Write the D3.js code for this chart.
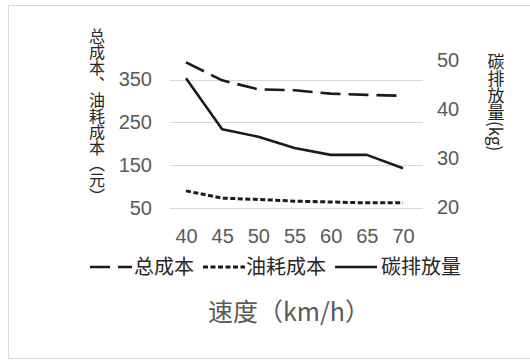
<!DOCTYPE html>
<html>
<head>
<meta charset="utf-8">
<script src="https://cdn.jsdelivr.net/npm/d3@7/dist/d3.min.js"></script>
<style>
  html, body { margin: 0; padding: 0; background: #fff; }
  svg { display: block; }
</style>
</head>
<body>
<div id="chart"></div>
<script>
// Speeds (km/h) on the category axis
const speeds = ["40", "45", "50", "55", "60", "65", "70"];
// Total cost and fuel cost (元), left axis
const totalCost = [390, 348, 327, 325, 317, 314, 312];
const fuelCost = [90, 73, 70, 66, 64, 62, 62];
// Carbon emissions (kg), right axis
const carbon = [46.3, 35.9, 34.4, 32.1, 30.7, 30.7, 28.0];
// Axis tick labels
const leftTicks = [50, 150, 250, 350];
const rightTicks = [20, 30, 40, 50];
// Legend entries
const legendNames = ["总成本", "油耗成本", "碳排放量"];

const W = 530, H = 360;
const svg = d3.select("#chart").append("svg")
  .attr("width", W).attr("height", H);

// Chart frame
svg.append("path")
  .attr("d", `M${W},5.5 H8.5 V358.5 H${W}`)
  .attr("fill", "none").attr("stroke", "#d9d9d9").attr("stroke-width", 1);

const x = d3.scalePoint().domain(speeds).range([186, 403]);
const yL = d3.scaleLinear().domain([50, 350]).range([208, 79.5]);
const yR = d3.scaleLinear().domain([20, 50]).range([207.5, 60]);

const tickFont = "'Liberation Sans', Arial, sans-serif";
const cjkFont = "'Noto Sans CJK SC', sans-serif";

// Horizontal gridlines for the left axis
svg.append("g").selectAll("line").data(leftTicks).join("line")
  .attr("x1", 170).attr("x2", 423)
  .attr("y1", d => Math.round(yL(d)) + 0.5).attr("y2", d => Math.round(yL(d)) + 0.5)
  .attr("stroke", "#d9d9d9").attr("stroke-width", 1);

// Left axis labels
const leftAxis = d3.axisLeft(yL).tickValues(leftTicks).tickSize(0).tickPadding(0);
const gL = svg.append("g").attr("transform", "translate(152,0)").call(leftAxis);
gL.select(".domain").remove();
gL.selectAll("text").attr("font-family", tickFont).attr("font-size", 20).attr("fill", "#595959");

// Right axis labels
const rightAxis = d3.axisRight(yR).tickValues(rightTicks).tickSize(0).tickPadding(0);
const gR = svg.append("g").attr("transform", "translate(437,0)").call(rightAxis);
gR.select(".domain").remove();
gR.selectAll("text").attr("font-family", tickFont).attr("font-size", 20).attr("fill", "#595959");

// Category labels
const bottomAxis = d3.axisBottom(x).tickSize(0).tickPadding(0);
const gB = svg.append("g").attr("transform", "translate(0,229)").call(bottomAxis);
gB.select(".domain").remove();
gB.selectAll("text").attr("font-family", tickFont).attr("font-size", 20).attr("fill", "#595959");

const styles = [
  { dash: "20,8", width: 2.6 },
  { dash: "5,2.5", width: 3 },
  { dash: null, width: 2.6 }
];

const lineL = d3.line().x((d, i) => x(speeds[i])).y(d => yL(d));
const lineR = d3.line().x((d, i) => x(speeds[i])).y(d => yR(d));

const series = [
  { values: totalCost, gen: lineL, st: styles[0] },
  { values: fuelCost, gen: lineL, st: styles[1] },
  { values: carbon, gen: lineR, st: styles[2] }
];

svg.append("g").selectAll("path").data(series).join("path")
  .attr("d", s => s.gen(s.values))
  .attr("fill", "none")
  .attr("stroke", "#1a1a1a")
  .attr("stroke-width", s => s.st.width)
  .attr("stroke-dasharray", s => s.st.dash)
  .attr("stroke-linejoin", "round");

// Legend
const legendY = 267;
const legendItems = [
  { x1: 90, x2: 132, tx: 134, st: styles[0] },
  { x1: 203, x2: 245, tx: 246, st: styles[1] },
  { x1: 335, x2: 377, tx: 381, st: styles[2] }
];
const lg = svg.append("g");
lg.selectAll("line").data(legendItems).join("line")
  .attr("x1", d => d.x1).attr("x2", d => d.x2)
  .attr("y1", legendY).attr("y2", legendY)
  .attr("stroke", "#1a1a1a")
  .attr("stroke-width", d => d.st.width)
  .attr("stroke-dasharray", d => d.st.dash);
lg.selectAll("text").data(legendItems).join("text")
  .attr("x", d => d.tx).attr("y", legendY)
  .attr("dy", "0.35em")
  .attr("font-family", cjkFont).attr("font-size", 20).attr("fill", "#262626")
  .text((d, i) => legendNames[i]);

// Axis titles
svg.append("text")
  .attr("x", 289).attr("y", 312).attr("dy", "0.35em")
  .attr("text-anchor", "middle")
  .attr("font-family", cjkFont).attr("font-size", 25).attr("fill", "#595959")
  .text("速度（km/h）");

svg.append("text")
  .attr("x", 97).attr("y", 28)
  .style("writing-mode", "vertical-rl")
  .style("text-orientation", "mixed")
  .attr("font-family", cjkFont).attr("font-size", 16).attr("fill", "#262626")
  .text("总成本、油耗成本（元）");

svg.append("text")
  .attr("x", 496).attr("y", 53)
  .style("writing-mode", "vertical-rl")
  .style("text-orientation", "mixed")
  .attr("font-family", cjkFont).attr("font-size", 17).attr("fill", "#262626")
  .text("碳排放量(kg)");
</script>
</body>
</html>
